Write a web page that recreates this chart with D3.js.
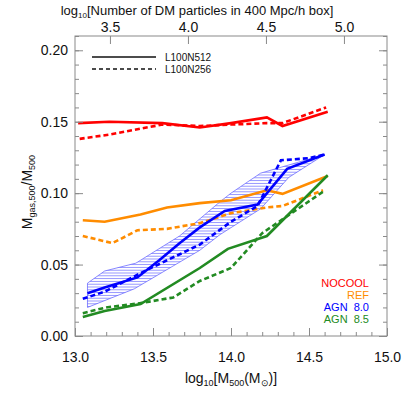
<!DOCTYPE html>
<html>
<head>
<meta charset="utf-8">
<script src="https://cdn.jsdelivr.net/npm/d3@7/dist/d3.min.js"></script>
<style>
body { margin: 0; background: white; }
text { font-family: "Liberation Sans", Arial, sans-serif; fill: #111; }
</style>
</head>
<body>
<svg id="chart" width="407" height="398"></svg>
<script>
// [log10 M500, Mgas,500/M500]
let noCoolSolid = [[13.02, 0.149], [13.22, 0.150], [13.56, 0.149], [13.80, 0.146], [14.00, 0.149], [14.23, 0.153], [14.33, 0.147], [14.62, 0.157]]
let noCoolDashed = [[13.03, 0.138], [13.22, 0.141], [13.56, 0.148], [13.80, 0.147], [14.00, 0.148], [14.23, 0.149], [14.33, 0.149], [14.61, 0.160]]
let refSolid = [[13.05, 0.081], [13.19, 0.080], [13.42, 0.085], [13.59, 0.090], [13.80, 0.093], [14.00, 0.095], [14.23, 0.102], [14.33, 0.0995], [14.62, 0.112]]
let refDashed = [[13.05, 0.070], [13.24, 0.065], [13.40, 0.074], [13.59, 0.075], [13.80, 0.079], [14.00, 0.086], [14.23, 0.090], [14.33, 0.091], [14.59, 0.102]]
let agn80Solid = [[13.08, 0.030], [13.19, 0.034], [13.40, 0.041], [13.54, 0.053], [13.67, 0.065], [13.80, 0.076], [13.96, 0.0875], [14.17, 0.092], [14.36, 0.117], [14.60, 0.127]]
let agn80Dashed = [[13.05, 0.026], [13.19, 0.031], [13.42, 0.044], [13.59, 0.053], [13.80, 0.064], [14.00, 0.080], [14.17, 0.091], [14.32, 0.123], [14.50, 0.1245], [14.60, 0.127]]
let agn85Solid = [[13.05, 0.0133], [13.19, 0.0175], [13.42, 0.0224], [13.80, 0.0476], [13.98, 0.061], [14.23, 0.070], [14.62, 0.1125]]
let agn85Dashed = [[13.05, 0.016], [13.20, 0.020], [13.42, 0.023], [13.63, 0.027], [13.80, 0.0385], [14.00, 0.0476], [14.20, 0.072], [14.59, 0.101]]
// scatter around AGN 8.0 (L100N512)
let agn80Upper = [[13.08, 0.037], [13.19, 0.0455], [13.39, 0.051], [13.67, 0.070], [13.93, 0.094], [14.00, 0.100], [14.19, 0.114], [14.60, 0.127]]
let agn80Lower = [[13.08, 0.020], [13.38, 0.033], [13.80, 0.060], [13.93, 0.071], [14.19, 0.089], [14.37, 0.111], [14.60, 0.127]]

let xMajor = [13.0, 13.5, 14.0, 14.5, 15.0]
let yMajor = [0.00, 0.05, 0.10, 0.15, 0.20]
let topMajor = [3.5, 4.0, 4.5, 5.0]
let models = ['NOCOOL', 'REF', 'AGN  8.0', 'AGN  8.5']
let modelColors = ['#ff0000', '#ff8c00', '#0000ff', '#228b22']

let svg = d3.select('#chart')
let frameColor = '#8a8a8a'

let x = d3.scaleLinear().domain([13, 15]).range([75, 387])
let y = d3.scaleLinear().domain([0, 0.21]).range([336, 36])
// DM particle count axis is just the mass axis shifted by the particle mass
let xTop = d3.scaleLinear().domain([13 - 9.724, 15 - 9.724]).range([75, 387])

let defs = svg.append('defs')
let pat = defs.append('pattern').attr('id', 'hatch')
    .attr('patternUnits', 'userSpaceOnUse')
    .attr('width', 6).attr('height', 2.8)
pat.append('line')
    .attr('x1', 0).attr('x2', 6).attr('y1', 1.4).attr('y2', 1.4)
    .attr('stroke', '#4a4aff').attr('stroke-width', 0.6)

let line = d3.line().x(d => x(d[0])).y(d => y(d[1]))

// hatched band
let band = agn80Upper.concat(agn80Lower.slice().reverse())
svg.append('path')
    .attr('d', line(band) + 'Z')
    .attr('fill', 'url(#hatch)')
    .attr('stroke', '#5a5aff')
    .attr('stroke-width', 0.7)

let series = [
    {data: noCoolSolid, color: modelColors[0], dash: null},
    {data: noCoolDashed, color: modelColors[0], dash: '5,3'},
    {data: refSolid, color: modelColors[1], dash: null},
    {data: refDashed, color: modelColors[1], dash: '5,3'},
    {data: agn80Dashed, color: modelColors[2], dash: '5,3'},
    {data: agn80Solid, color: modelColors[2], dash: null},
    {data: agn85Solid, color: modelColors[3], dash: null},
    {data: agn85Dashed, color: modelColors[3], dash: '5,3'}
]

svg.append('g').selectAll('path')
    .data(series)
    .join('path')
    .attr('d', d => line(d.data))
    .attr('fill', 'none')
    .attr('stroke', d => d.color)
    .attr('stroke-width', 2.6)
    .attr('stroke-dasharray', d => d.dash)

// axes: ticks point inward on all four sides
function styleAxis(g) {
    g.select('.domain').remove()
    g.selectAll('line').attr('stroke', frameColor)
    g.selectAll('text').style('font-size', '14px').style('font-family', '"Liberation Sans", Arial, sans-serif').attr('fill', '#111')
}

let xMinor = d3.range(13, 15.001, 0.1)
let yMinor = d3.range(0, 0.2101, 0.01)

svg.append('g').attr('transform', 'translate(0,336)')
    .call(d3.axisBottom(x).tickValues(xMinor).tickSize(-4).tickFormat(''))
    .call(styleAxis)
svg.append('g').attr('transform', 'translate(0,336)')
    .call(d3.axisBottom(x).tickValues(xMajor).tickSize(-8).tickPadding(16).tickFormat(d3.format('.1f')))
    .call(styleAxis)

svg.append('g').attr('transform', 'translate(0,36)')
    .call(d3.axisTop(xTop).tickValues(topMajor).tickSize(-8).tickPadding(4).tickFormat(d3.format('.1f')))
    .call(styleAxis)

svg.append('g').attr('transform', 'translate(75,0)')
    .call(d3.axisLeft(y).tickValues(yMinor).tickSize(-4).tickFormat(''))
    .call(styleAxis)
svg.append('g').attr('transform', 'translate(75,0)')
    .call(d3.axisLeft(y).tickValues(yMajor).tickSize(-8).tickPadding(7).tickFormat(d3.format('.2f')))
    .call(styleAxis)

svg.append('g').attr('transform', 'translate(387,0)')
    .call(d3.axisRight(y).tickValues(yMinor).tickSize(-4).tickFormat(''))
    .call(styleAxis)
svg.append('g').attr('transform', 'translate(387,0)')
    .call(d3.axisRight(y).tickValues(yMajor).tickSize(-8).tickFormat(''))
    .call(styleAxis)

svg.append('rect')
    .attr('x', 75).attr('y', 36)
    .attr('width', 312).attr('height', 300)
    .attr('fill', 'none')
    .attr('stroke', frameColor)
    .attr('stroke-width', 1)

// axis titles
let xTitle = svg.append('text')
    .attr('x', 231).attr('y', 383)
    .attr('text-anchor', 'middle')
    .style('font-size', '14px')
xTitle.append('tspan').text('log')
xTitle.append('tspan').attr('dy', 3).style('font-size', '9px').text('10')
xTitle.append('tspan').attr('dy', -3).text('[M')
xTitle.append('tspan').attr('dy', 3).style('font-size', '9px').text('500')
xTitle.append('tspan').attr('dy', -3).text('(M')
xTitle.append('tspan').attr('dy', 3).style('font-size', '9px').text('\u2299')
xTitle.append('tspan').attr('dy', -3).text(')]')

let topTitle = svg.append('text')
    .attr('x', 197).attr('y', 15)
    .attr('text-anchor', 'middle')
    .style('font-size', '13px')
topTitle.append('tspan').text('log')
topTitle.append('tspan').attr('dy', 2.5).style('font-size', '8px').text('10')
topTitle.append('tspan').attr('dy', -2.5).text('[Number of DM particles in 400 Mpc/h box]')

let yTitle = svg.append('text')
    .attr('transform', 'translate(32,192) rotate(-90)')
    .attr('text-anchor', 'middle')
    .style('font-size', '14px')
yTitle.append('tspan').text('M')
yTitle.append('tspan').attr('dy', 3).style('font-size', '9px').text('gas,500')
yTitle.append('tspan').attr('dy', -3).text('/M')
yTitle.append('tspan').attr('dy', 3).style('font-size', '9px').text('500')

// resolution legend
let resLegend = svg.append('g')
resLegend.selectAll('line')
    .data(['L100N512', 'L100N256'])
    .join('line')
    .attr('x1', 92).attr('x2', 156)
    .attr('y1', (d, i) => 57 + i * 12).attr('y2', (d, i) => 57 + i * 12)
    .attr('stroke', '#111')
    .attr('stroke-width', 1.3)
    .attr('stroke-dasharray', (d, i) => i ? '4,3' : null)
resLegend.selectAll('text')
    .data(['L100N512', 'L100N256'])
    .join('text')
    .attr('x', 165).attr('y', (d, i) => 61 + i * 12)
    .style('font-size', '10px')
    .text(d => d)

// model legend
svg.append('g').selectAll('text')
    .data(models)
    .join('text')
    .attr('x', 369).attr('y', (d, i) => 287 + i * 12)
    .attr('text-anchor', 'end')
    .style('font-size', '11px')
    .style('white-space', 'pre')
    .style('fill', (d, i) => modelColors[i])
    .text(d => d)
</script>
</body>
</html>
